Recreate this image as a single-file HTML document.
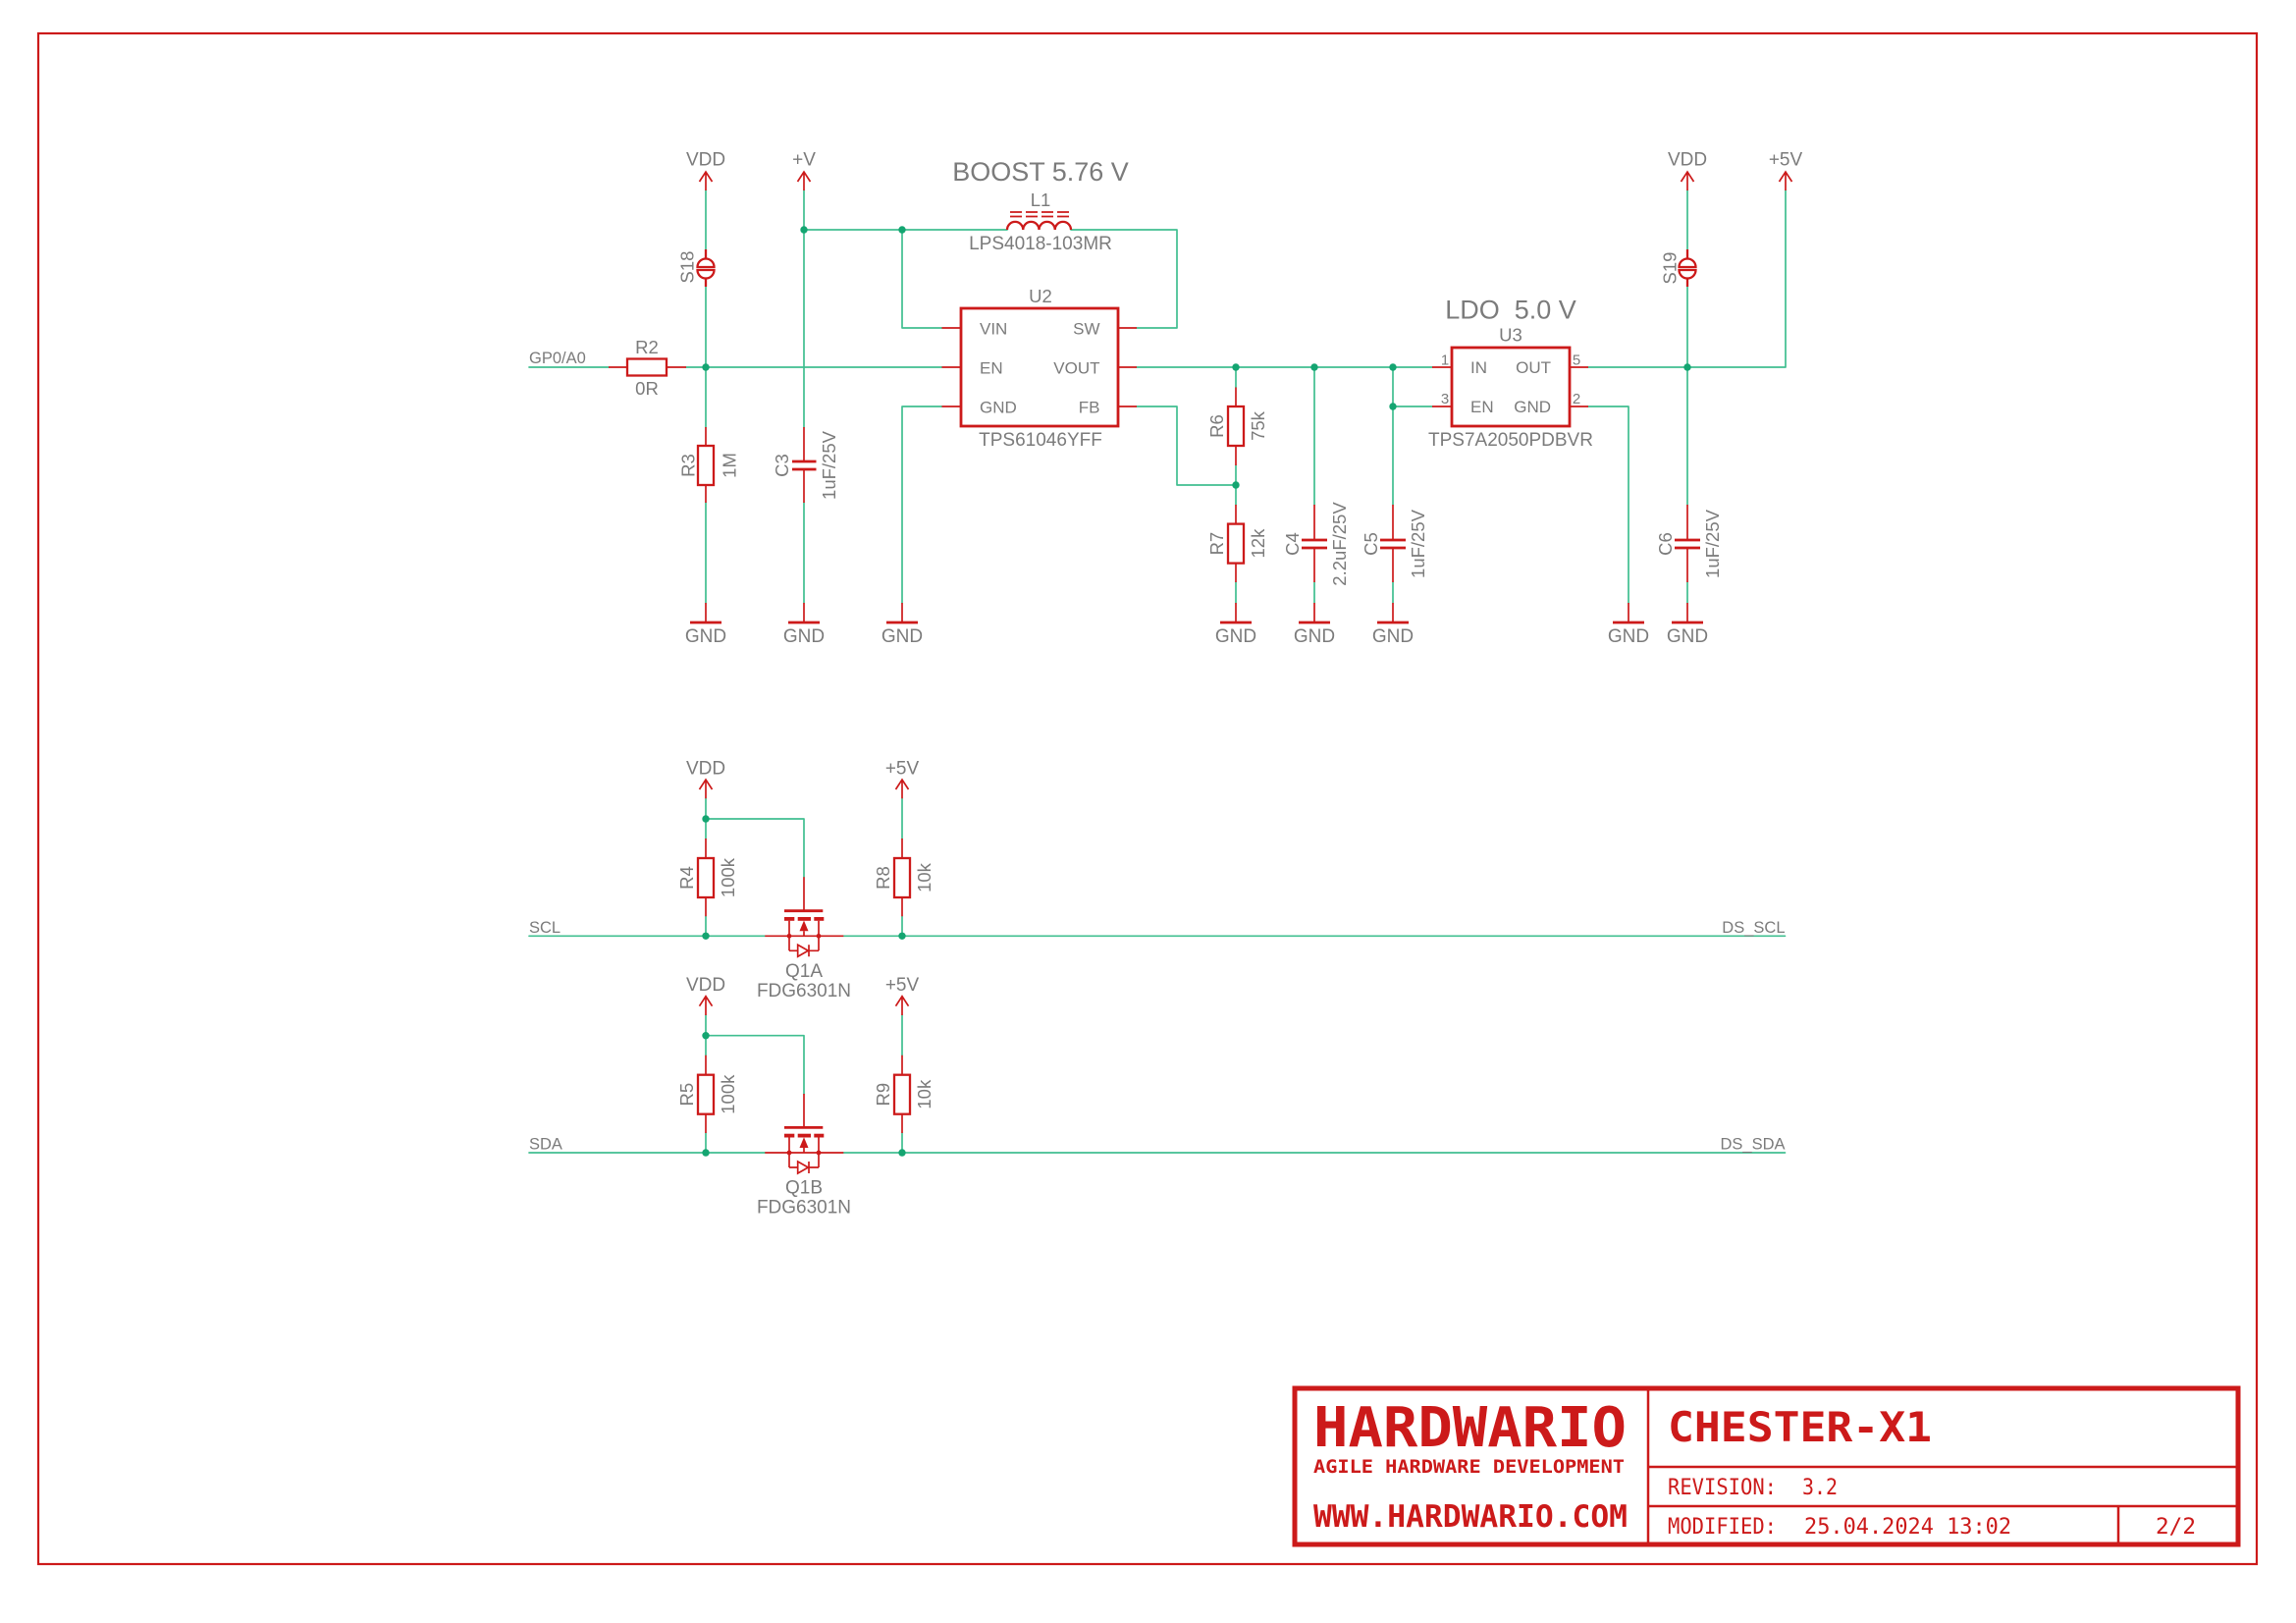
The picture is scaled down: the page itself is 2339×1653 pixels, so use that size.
<!DOCTYPE html>
<html><head><meta charset="utf-8"><style>
html,body{margin:0;padding:0;background:#fff}
svg{display:block}
.w{stroke:#40bf90;stroke-width:1.7;fill:none;stroke-linecap:round;stroke-linejoin:round}
.r{stroke:#cc1a1a;stroke-width:1.7;fill:none}
.rs{stroke:#cc1a1a;stroke-width:2.3;fill:none}
.rt{stroke:#cc1a1a;stroke-width:2.8;fill:none}
.t{font-family:"Liberation Sans",sans-serif;fill:#7b7b7b}
.m{font-family:"DejaVu Sans Mono","Liberation Mono",monospace;fill:#cc1a1a}
.j{fill:#14a571}
</style></head><body>
<svg xmlns="http://www.w3.org/2000/svg" width="2339" height="1653" viewBox="0 0 2339 1653">
<rect x="0" y="0" width="2339" height="1653" fill="#fff"/>
<!-- frame -->
<rect x="39" y="34" width="2260" height="1559" fill="none" stroke="#cc1a1a" stroke-width="2.2"/>

<!-- ===== TOP SECTION WIRES ===== -->
<path class="w" d="M539 374 H620 M699 374 H959.5
M719 194 V254 M719 292 V435 M719 512 V614
M819 194 V435 M819 512 V614
M819 234 H1026 M1091 234 H1199 V334 H1158
M919 234 V334 H959.5
M959.5 414 H919 V614
M1158 374 H1459
M1158 414 H1199 V494 H1259
M1259 374 V394.5 M1259 474 V514 M1259 593 V614
M1339 374 V514 M1339 593 V614
M1419 374 V514 M1419 593 V614 M1419 414 H1459
M1618 374 H1819 V194
M1618 414 H1659 V614
M1719 194 V254 M1719 292 V514 M1719 593 V614"/>

<!-- supply arrows top -->
<g class="r">
<path d="M719 175 V194 M712.5 185 L719 175 L725.5 185"/>
<path d="M819 175 V194 M812.5 185 L819 175 L825.5 185"/>
<path d="M1719 175 V194 M1712.5 185 L1719 175 L1725.5 185"/>
<path d="M1819 175 V194 M1812.5 185 L1819 175 L1825.5 185"/>
</g>
<g class="t" font-size="19" text-anchor="middle">
<text x="719" y="168.5">VDD</text>
<text x="819" y="168.5">+V</text>
<text x="1719" y="168.5">VDD</text>
<text x="1819" y="168.5">+5V</text>
</g>

<!-- GND symbols top -->
<g>
<path class="r" d="M719 614 V634 M819 614 V634 M919 614 V634 M1259 614 V634 M1339 614 V634 M1419 614 V634 M1659 614 V634 M1719 614 V634"/>
<path class="rt" d="M703 634 H735 M803 634 H835 M903 634 H935 M1243 634 H1275 M1323 634 H1355 M1403 634 H1435 M1643 634 H1675 M1703 634 H1735"/>
</g>
<g class="t" font-size="19" text-anchor="middle">
<text x="719" y="654">GND</text><text x="819" y="654">GND</text><text x="919" y="654">GND</text>
<text x="1259" y="654">GND</text><text x="1339" y="654">GND</text><text x="1419" y="654">GND</text>
<text x="1659" y="654">GND</text><text x="1719" y="654">GND</text>
</g>

<!-- S18 / S19 solder jumpers -->
<g class="rs">
<path d="M719 254 V263.5 M719 283.5 V292"/>
<path d="M710.5 272 A8.5 8.5 0 0 1 727.5 272 Z"/>
<path d="M710.5 275 A8.5 8.5 0 0 0 727.5 275 Z"/>
<path d="M1719 254 V263.5 M1719 283.5 V292"/>
<path d="M1710.5 272 A8.5 8.5 0 0 1 1727.5 272 Z"/>
<path d="M1710.5 275 A8.5 8.5 0 0 0 1727.5 275 Z"/>
</g>

<!-- R2 -->
<path class="r" d="M620 374 H639 M679 374 H699"/>
<rect class="rs" x="639" y="365.5" width="40" height="17"/>
<g class="t" font-size="18.5" text-anchor="middle">
<text x="659" y="360">R2</text><text x="659" y="402">0R</text>
</g>
<text class="t" font-size="16.5" x="539" y="370">GP0/A0</text>

<!-- R3 -->
<path class="r" d="M719 435 V454 M719 494 V512"/>
<rect class="rs" x="711" y="454" width="16" height="40"/>
<!-- C3 -->
<path class="r" d="M819 435 V470 M819 478 V512"/>
<path class="rt" d="M807 470 H831.5 M807 478 H831.5"/>

<!-- L1 -->
<path class="rs" d="M1026 234 a8.125 8.125 0 0 1 16.25 0 a8.125 8.125 0 0 1 16.25 0 a8.125 8.125 0 0 1 16.25 0 a8.125 8.125 0 0 1 16.25 0"/>
<path class="r" d="M1029 216 H1041 M1045 216 H1057 M1061 216 H1073 M1077 216 H1089 M1029 220.5 H1041 M1045 220.5 H1057 M1061 220.5 H1073 M1077 220.5 H1089"/>

<!-- U2 -->
<path class="r" d="M959.5 334 H979 M959.5 374 H979 M959.5 414 H979 M1139 334 H1158 M1139 374 H1158 M1139 414 H1158"/>
<rect class="rt" x="979" y="314" width="160" height="120"/>
<g class="t" font-size="17">
<text x="998" y="340.5">VIN</text><text x="998" y="380.5">EN</text><text x="998" y="420.5">GND</text>
</g>
<g class="t" font-size="17" text-anchor="end">
<text x="1120.5" y="340.5">SW</text><text x="1120.5" y="380.5">VOUT</text><text x="1120.5" y="420.5">FB</text>
</g>
<g class="t" text-anchor="middle">
<text x="1060" y="184" font-size="27">BOOST 5.76 V</text>
<text x="1060" y="210" font-size="18.5">L1</text>
<text x="1060" y="254" font-size="19">LPS4018-103MR</text>
<text x="1060" y="308" font-size="18.5">U2</text>
<text x="1060" y="454" font-size="19">TPS61046YFF</text>
<text x="1539" y="324.5" font-size="27" xml:space="preserve">LDO  5.0 V</text>
<text x="1539" y="347.5" font-size="18.5">U3</text>
<text x="1539" y="454" font-size="19">TPS7A2050PDBVR</text>
</g>

<!-- R6 R7 -->
<path class="r" d="M1259 394.5 V414 M1259 454 V474 M1259 514 V533.6 M1259 573.6 V593"/>
<rect class="rs" x="1251" y="414" width="16" height="40"/>
<rect class="rs" x="1251" y="533.6" width="16" height="40"/>
<!-- C4 C5 C6 -->
<path class="r" d="M1339 514 V550 M1339 558 V593 M1419 514 V550 M1419 558 V593 M1719 514 V550 M1719 558 V593"/>
<path class="rt" d="M1326 550 H1352 M1326 558 H1352 M1406 550 H1432 M1406 558 H1432 M1706 550 H1732 M1706 558 H1732"/>

<!-- U3 -->
<path class="r" d="M1459 374 H1479 M1459 414 H1479 M1599 374 H1618 M1599 414 H1618"/>
<rect class="rt" x="1479" y="354" width="120" height="80"/>
<g class="t" font-size="17">
<text x="1498" y="380">IN</text><text x="1498" y="420">EN</text>
</g>
<g class="t" font-size="17" text-anchor="end">
<text x="1580" y="380">OUT</text><text x="1580" y="420">GND</text>
</g>
<g class="t" font-size="15" text-anchor="middle">
<text x="1472" y="371.5">1</text><text x="1472" y="411">3</text>
<text x="1606" y="371.5">5</text><text x="1606" y="411">2</text>
</g>

<!-- rotated labels top -->
<g class="t" font-size="18.5" text-anchor="middle">
<text transform="translate(706.7,272) rotate(-90)">S18</text>
<text transform="translate(1707.5,273) rotate(-90)">S19</text>
<text transform="translate(707.5,474) rotate(-90)">R3</text>
<text transform="translate(749.5,474) rotate(-90)">1M</text>
<text transform="translate(803,474) rotate(-90)">C3</text>
<text transform="translate(851,474) rotate(-90)">1uF/25V</text>
<text transform="translate(1246,434) rotate(-90)">R6</text>
<text transform="translate(1288,434) rotate(-90)">75k</text>
<text transform="translate(1246,553.6) rotate(-90)">R7</text>
<text transform="translate(1288,553.6) rotate(-90)">12k</text>
<text transform="translate(1323,554) rotate(-90)">C4</text>
<text transform="translate(1371,554) rotate(-90)">2.2uF/25V</text>
<text transform="translate(1403,554) rotate(-90)">C5</text>
<text transform="translate(1451,554) rotate(-90)">1uF/25V</text>
<text transform="translate(1703,554) rotate(-90)">C6</text>
<text transform="translate(1751,554) rotate(-90)">1uF/25V</text>
</g>

<!-- junctions top -->
<g class="j">
<circle cx="719" cy="374" r="3.7"/><circle cx="819" cy="234" r="3.7"/><circle cx="919" cy="234" r="3.7"/>
<circle cx="1259" cy="374" r="3.7"/><circle cx="1259" cy="494" r="3.7"/><circle cx="1339" cy="374" r="3.7"/>
<circle cx="1419" cy="374" r="3.7"/><circle cx="1419" cy="414" r="3.7"/><circle cx="1719" cy="374" r="3.7"/>
</g>

<!-- ===== LOWER SECTION (SCL) ===== -->
<g id="blk">
<path class="w" d="M539 953.3 H779.3 M859.3 953.3 H1818.5
M719 813.3 V854 M719 933.3 V953.3 M719 834 H819 V893.3
M919 813.3 V854 M919 933.3 V953.3"/>
<path class="r" d="M719 794 V813.3 M712.5 804 L719 794 L725.5 804 M919 794 V813.3 M912.5 804 L919 794 L925.5 804"/>
<path class="r" d="M719 854 V874 M719 914 V933.3 M919 854 V874 M919 914 V933.3"/>
<rect class="rs" x="711" y="874" width="16" height="40"/>
<rect class="rs" x="911" y="874" width="16" height="40"/>
<!-- MOSFET -->
<path class="r" d="M779.3 953.3 H859.3 M819 893.3 V927.7 M804 937.7 V968.3 M834 937.7 V968.3 M804 968.3 H834 M819 948.3 V953.3"/>
<path class="rt" d="M799 927.7 H838.3"/>
<rect x="799" y="934" width="10.3" height="3.8" fill="#cc1a1a"/>
<rect x="812.7" y="934" width="13.3" height="3.8" fill="#cc1a1a"/>
<rect x="829.3" y="934" width="10" height="3.8" fill="#cc1a1a"/>
<path d="M819 937.5 L823.5 948.3 L814.5 948.3 Z" fill="#cc1a1a"/>
<path d="M812.7 962.3 L823.3 968.3 L812.7 974.3 Z M824 962.3 V974.3" fill="#fff" stroke="#cc1a1a" stroke-width="1.7"/>
<circle cx="804" cy="953.3" r="2.4" fill="#cc1a1a"/>
<circle cx="834" cy="953.3" r="2.4" fill="#cc1a1a"/>
<g class="j">
<circle cx="719" cy="834" r="3.7"/><circle cx="719" cy="953.3" r="3.7"/><circle cx="919" cy="953.3" r="3.7"/>
</g>
<g class="t" font-size="19" text-anchor="middle">
<text x="719" y="788.3">VDD</text><text x="919" y="788.3">+5V</text>
<text x="819" y="1015">FDG6301N</text>
</g>
</g>
<g class="t" font-size="19" text-anchor="middle">
<text x="819" y="995">Q1A</text>
</g>
<g class="t" font-size="16.5">
<text x="539" y="950">SCL</text>
<text x="1818.5" y="950" text-anchor="end">DS_SCL</text>
</g>
<g class="t" font-size="18.5" text-anchor="middle">
<text transform="translate(706,894) rotate(-90)">R4</text>
<text transform="translate(748,894) rotate(-90)">100k</text>
<text transform="translate(906,894) rotate(-90)">R8</text>
<text transform="translate(948,894) rotate(-90)">10k</text>
</g>

<!-- ===== LOWER SECTION (SDA) ===== -->
<use href="#blk" transform="translate(0,220.7)"/>
<g class="t" font-size="19" text-anchor="middle">
<text x="819" y="1215.7">Q1B</text>
</g>
<g class="t" font-size="16.5">
<text x="539" y="1170.7">SDA</text>
<text x="1818.5" y="1170.7" text-anchor="end">DS_SDA</text>
</g>
<g class="t" font-size="18.5" text-anchor="middle">
<text transform="translate(706,1114.7) rotate(-90)">R5</text>
<text transform="translate(748,1114.7) rotate(-90)">100k</text>
<text transform="translate(906,1114.7) rotate(-90)">R9</text>
<text transform="translate(948,1114.7) rotate(-90)">10k</text>
</g>

<!-- ===== TITLE BLOCK ===== -->
<rect x="1319" y="1414" width="961" height="159" fill="none" stroke="#cc1a1a" stroke-width="5"/>
<path d="M1679 1414 V1573 M1679 1494 H2280 M1679 1534 H2280 M2158 1534 V1573" stroke="#cc1a1a" stroke-width="2.5" fill="none"/>
<text class="m" x="1338" y="1473" font-size="56" font-weight="bold" textLength="319" lengthAdjust="spacingAndGlyphs">HARDWARIO</text>
<text class="m" x="1338" y="1500" font-size="18.5" font-weight="bold" textLength="317" lengthAdjust="spacingAndGlyphs">AGILE HARDWARE DEVELOPMENT</text>
<text class="m" x="1338" y="1555" font-size="31" font-weight="bold" textLength="320" lengthAdjust="spacingAndGlyphs">WWW.HARDWARIO.COM</text>
<text class="m" x="1699" y="1468" font-size="42" font-weight="bold" textLength="269" lengthAdjust="spacingAndGlyphs">CHESTER-X1</text>
<text class="m" x="1699" y="1522" font-size="22" textLength="111" lengthAdjust="spacingAndGlyphs">REVISION:</text>
<text class="m" x="1836" y="1522" font-size="22" textLength="36" lengthAdjust="spacingAndGlyphs">3.2</text>
<text class="m" x="1699" y="1562" font-size="22" textLength="111" lengthAdjust="spacingAndGlyphs">MODIFIED:</text>
<text class="m" x="1838" y="1562" font-size="22" textLength="211" lengthAdjust="spacingAndGlyphs">25.04.2024 13:02</text>
<text class="m" x="2196" y="1562" font-size="22" textLength="41" lengthAdjust="spacingAndGlyphs">2/2</text>
</svg>
</body></html>
